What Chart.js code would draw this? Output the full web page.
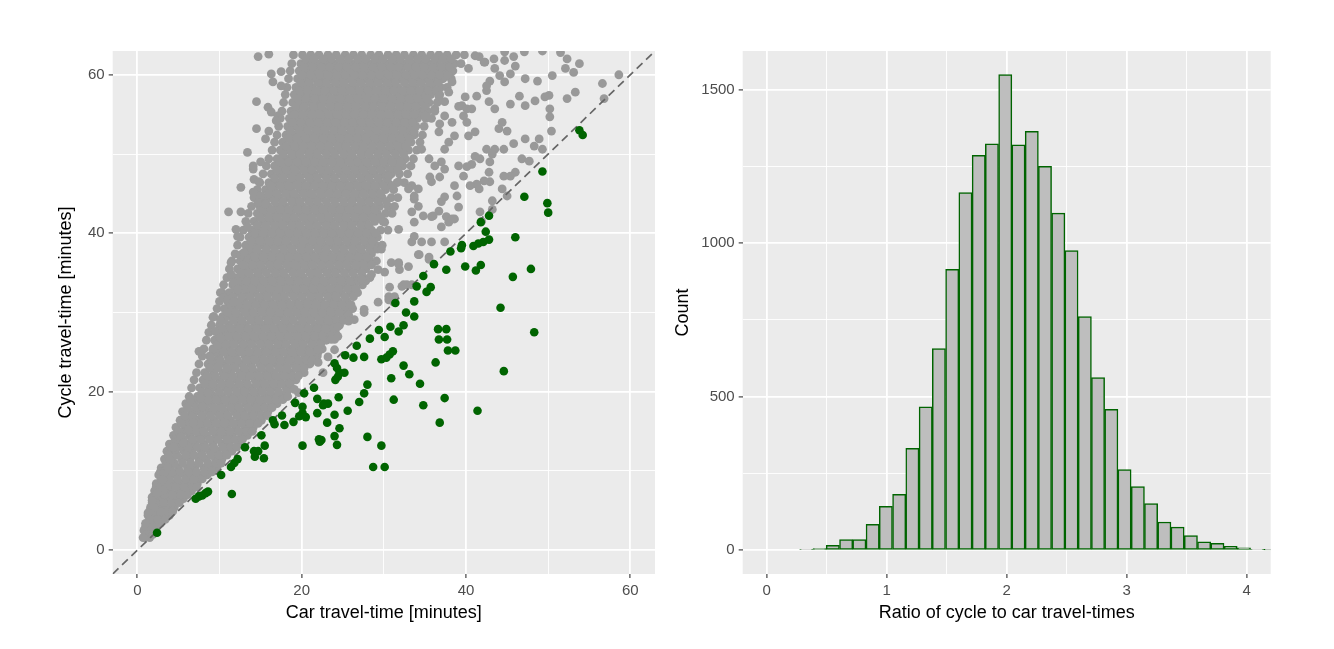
<!DOCTYPE html>
<html>
<head>
<meta charset="utf-8">
<script src="https://cdn.jsdelivr.net/npm/chart.js@4.4.0/dist/chart.umd.min.js"></script>
<style>
  html, body { margin: 0; background: #fff; }
  #wrap { position: relative; width: 1334px; height: 649px; overflow: hidden; }
  canvas { position: absolute; top: 0; }
</style>
</head>
<body>
<div id="wrap">
  <canvas id="scatter" width="667" height="649" style="left:0"></canvas>
  <canvas id="hist" width="667" height="649" style="left:667px"></canvas>
</div>
<script>
// Left panel: car vs cycle travel time, minutes
// ======================

// journeys where cycling beats driving (under the dashed line), [car, cycle]
var fasterByCycle = [
  [53.8,53.0],[54.2,52.4],[49.3,47.8],[47.1,44.6],[49.9,43.8],[50.0,42.6],[42.8,42.2],[41.8,41.4],
  [42.4,40.2],[46.0,39.5],[42.8,39.2],[42.1,38.9],[41.5,38.7],[40.9,38.4],[39.5,38.5],[39.4,38.1],
  [38.1,37.7],[36.1,36.1],[37.6,35.4],[39.9,35.8],[41.2,35.3],[41.8,36.0],[47.9,35.5],[45.7,34.5],
  [34.8,34.6],[34.0,33.3],[35.7,33.2],[35.2,32.6],[33.7,31.4],[31.4,31.2],[44.2,30.6],[32.7,30.0],
  [33.7,29.5],[32.4,28.4],[31.8,27.6],[30.8,28.2],[29.4,27.8],[30.1,26.9],[28.3,26.7],[36.6,27.9],
  [37.6,27.9],[36.7,26.6],[37.7,26.6],[37.8,25.2],[38.7,25.2],[48.3,27.5],[26.7,25.8],[25.3,24.6],
  [26.3,24.3],[27.6,24.4],[29.7,24.1],[30.3,24.3],[30.7,24.7],[31.1,25.1],[36.3,23.7],[32.4,23.3],
  [33.1,22.2],[24.0,23.6],[24.3,23.0],[24.6,22.4],[25.2,22.4],[24.1,21.5],[24.4,21.9],[30.9,21.7],
  [34.4,21.0],[44.6,22.6],[28.0,20.9],[27.6,19.8],[27.0,18.7],[24.5,19.3],[31.2,19.0],[34.8,18.3],
  [37.4,19.2],[41.4,17.6],[36.8,16.1],[22.7,18.5],[23.2,18.5],[25.6,17.6],[24.0,17.1],[23.1,16.1],
  [24.6,15.4],[22.4,13.9],[24.0,14.4],[24.3,13.3],[28.0,14.3],[29.7,13.2],[28.7,10.5],[30.1,10.5],
  [21.5,20.5],[20.3,19.8],[19.2,18.6],[21.9,19.1],[21.9,17.3],[22.6,18.3],[20.1,18.1],[20.1,17.3],
  [19.7,16.9],[20.5,16.8],[17.6,17.0],[16.5,16.4],[16.7,15.9],[17.9,15.8],[19.0,16.2],[15.1,14.5],
  [15.5,13.2],[20.1,13.2],[22.1,14.0],[22.2,13.7],[13.1,13.0],[14.2,12.5],[14.7,12.5],[14.3,11.8],
  [15.4,11.6],[12.2,11.5],[11.8,11.0],[11.4,10.5],[10.2,9.5],[8.6,7.4],[8.3,7.2],[7.9,6.9],
  [7.5,6.8],[7.1,6.5],[11.5,7.1],[2.4,2.2]
];

// the big grey cloud, read row by row: [cycle, car, car, ...]
var greyRows = [
  [1.6, 0.9, 1.5],
  [2.5, 0.8, 1.6, 2.2],
  [3.4, 1.2, 2.0, 2.8],
  [4.4, 1.3, 2.3, 3.1, 3.9],
  [5.4, 1.6, 2.5, 3.5, 4.5],
  [6.5, 1.9, 2.8, 3.8, 4.7, 5.6],
  [7.5, 2.1, 3.1, 4.0, 5.1, 6.0, 6.6],
  [8.4, 2.3, 3.4, 4.4, 5.3, 6.4, 7.3],
  [9.5, 2.6, 3.6, 4.7, 5.8, 6.7, 7.7, 8.5],
  [10.4, 2.9, 4.0, 5.0, 6.1, 7.0, 8.1, 9.0, 9.7],
  [11.5, 3.3, 4.2, 5.4, 6.4, 7.5, 8.4, 9.5, 10.3],
  [12.5, 3.6, 4.6, 5.7, 6.6, 7.8, 8.8, 9.7, 10.8, 11.5],
  [13.4, 3.9, 5.0, 6.1, 7.0, 8.1, 9.2, 10.3, 11.2, 12.3],
  [14.5, 4.4, 5.3, 6.4, 7.5, 8.4, 9.6, 10.6, 11.5, 12.7, 13.4],
  [15.5, 4.7, 5.8, 6.8, 7.8, 8.9, 10.0, 10.9, 12.0, 13.1, 14.1],
  [16.4, 5.2, 6.1, 7.3, 8.2, 9.3, 10.4, 11.3, 12.5, 13.5, 14.4, 15.1],
  [17.5, 5.5, 6.6, 7.6, 8.7, 9.6, 10.7, 11.8, 12.8, 13.9, 14.8, 15.9],
  [18.5, 5.9, 6.9, 8.0, 9.0, 10.1, 11.1, 12.1, 13.2, 14.3, 15.2, 16.3, 17.0],
  [19.4, 6.3, 7.3, 8.3, 9.4, 10.3, 11.5, 12.5, 13.6, 14.5, 15.7, 16.6, 17.6],
  [20.5, 6.6, 7.6, 8.7, 9.7, 10.8, 11.8, 12.9, 13.8, 15.0, 16.0, 17.0, 18.1, 18.7],
  [21.5, 6.9, 8.0, 9.0, 10.0, 11.1, 12.1, 13.2, 14.3, 15.2, 16.3, 17.4, 18.4, 19.3],
  [22.4, 7.2, 8.2, 9.3, 10.4, 11.3, 12.5, 13.5, 14.5, 15.6, 16.6, 17.7, 18.7, 19.8, 20.3],
  [23.5, 7.5, 8.6, 9.6, 10.6, 11.7, 12.7, 13.8, 14.9, 15.8, 16.9, 18.0, 19.0, 20.0, 21.0],
  [24.5, 7.9, 8.8, 9.9, 11.0, 11.9, 13.1, 14.1, 15.1, 16.2, 17.2, 18.3, 19.3, 20.4, 21.3, 21.9],
  [25.4, 8.1, 9.2, 10.2, 11.2, 12.3, 13.3, 14.4, 15.5, 16.4, 17.5, 18.6, 19.6, 20.6, 21.7, 22.5],
  [26.5, 8.4, 9.4, 10.5, 11.6, 12.5, 13.7, 14.7, 15.7, 16.8, 17.8, 18.9, 19.9, 21.0, 22.0, 23.0],
  [27.5, 8.7, 9.8, 10.8, 11.8, 12.9, 13.9, 15.0, 16.1, 17.0, 18.1, 19.2, 20.2, 21.2, 22.3, 23.3, 24.1],
  [28.4, 9.0, 10.0, 11.1, 12.2, 13.1, 14.3, 15.3, 16.3, 17.4, 18.4, 19.5, 20.5, 21.6, 22.6, 23.6, 24.6],
  [29.5, 9.3, 10.4, 11.4, 12.4, 13.5, 14.5, 15.6, 16.7, 17.6, 18.7, 19.8, 20.8, 21.8, 22.9, 23.9, 25.0, 25.7],
  [30.5, 9.7, 10.6, 11.7, 12.8, 13.7, 14.9, 15.9, 16.9, 18.0, 19.0, 20.1, 21.1, 22.2, 23.2, 24.2, 25.3, 26.2],
  [31.4, 10.0, 11.0, 12.0, 13.0, 14.1, 15.1, 16.2, 17.3, 18.2, 19.3, 20.4, 21.4, 22.4, 23.5, 24.5, 25.5],
  [32.5, 10.3, 11.2, 12.3, 13.4, 14.3, 15.5, 16.5, 17.5, 18.6, 19.6, 20.7, 21.7, 22.8, 23.8, 24.8, 25.9, 26.8],
  [33.5, 10.5, 11.6, 12.6, 13.6, 14.7, 15.7, 16.8, 17.9, 18.8, 19.9, 21.0, 22.0, 23.0, 24.1, 25.1, 26.2, 27.4],
  [34.4, 10.9, 11.9, 12.9, 14.0, 14.9, 16.1, 17.1, 18.1, 19.2, 20.2, 21.3, 22.3, 23.4, 24.4, 25.4, 26.5, 27.5, 28.3],
  [35.5, 11.2, 12.2, 13.3, 14.3, 15.3, 16.4, 17.4, 18.5, 19.5, 20.5, 21.6, 22.6, 23.7, 24.7, 25.8, 26.8, 27.8],
  [36.5, 11.5, 12.5, 13.6, 14.6, 15.7, 16.7, 17.8, 18.8, 19.9, 20.9, 22.0, 23.0, 24.1, 25.1, 26.1, 27.2, 28.3, 29.1],
  [37.4, 11.9, 12.9, 13.9, 15.0, 16.0, 17.1, 18.1, 19.1, 20.2, 21.2, 22.3, 23.3, 24.4, 25.4, 26.5, 27.5, 28.5],
  [38.5, 12.2, 13.2, 14.3, 15.3, 16.4, 17.4, 18.4, 19.5, 20.5, 21.6, 22.6, 23.7, 24.7, 25.8, 26.8, 27.9, 29.0, 29.8],
  [39.5, 12.5, 13.6, 14.6, 15.6, 16.7, 17.7, 18.8, 19.8, 20.9, 21.9, 23.0, 24.0, 25.0, 26.1, 27.1, 28.2, 29.2],
  [40.4, 12.9, 13.9, 14.9, 16.0, 17.0, 18.1, 19.1, 20.2, 21.2, 22.3, 23.3, 24.3, 25.4, 26.4, 27.5, 28.5, 29.6, 30.5],
  [41.5, 13.2, 14.2, 15.3, 16.3, 17.4, 18.4, 19.4, 20.5, 21.5, 22.6, 23.6, 24.7, 25.7, 26.7, 27.8, 28.9, 29.9],
  [42.5, 13.5, 14.6, 15.6, 16.7, 17.7, 18.7, 19.8, 20.8, 21.9, 22.9, 24.0, 25.0, 26.0, 27.1, 28.1, 29.2, 30.2, 31.0],
  [43.4, 13.9, 14.9, 15.9, 17.0, 18.0, 19.1, 20.1, 21.2, 22.2, 23.2, 24.3, 25.3, 26.4, 27.4, 28.5, 29.5, 30.5],
  [44.5, 14.2, 15.3, 16.3, 17.3, 18.4, 19.4, 20.5, 21.5, 22.5, 23.6, 24.6, 25.7, 26.7, 27.8, 28.8, 29.8, 30.9, 31.7],
  [45.5, 14.6, 15.6, 16.6, 17.7, 18.7, 19.8, 20.8, 21.9, 22.9, 23.9, 25.0, 26.0, 27.1, 28.1, 29.1, 30.2, 31.2],
  [46.4, 14.9, 16.0, 17.0, 18.1, 19.1, 20.1, 21.2, 22.2, 23.3, 24.3, 25.3, 26.4, 27.4, 28.5, 29.5, 30.5, 31.6, 32.5],
  [47.5, 15.3, 16.3, 17.4, 18.4, 19.4, 20.5, 21.5, 22.6, 23.6, 24.7, 25.7, 26.7, 27.8, 28.8, 29.9, 30.9, 31.9, 32.9],
  [48.5, 15.7, 16.7, 17.7, 18.8, 19.8, 20.9, 21.9, 22.9, 24.0, 25.0, 26.1, 27.1, 28.1, 29.2, 30.2, 31.3, 32.3, 33.3],
  [49.4, 16.0, 17.0, 18.1, 19.1, 20.2, 21.2, 22.2, 23.3, 24.3, 25.4, 26.4, 27.4, 28.5, 29.5, 30.6, 31.6, 32.6, 33.6],
  [50.5, 16.4, 17.4, 18.4, 19.5, 20.5, 21.6, 22.6, 23.6, 24.7, 25.7, 26.8, 27.8, 28.8, 29.9, 30.9, 32.0, 33.0, 34.0],
  [51.5, 16.7, 17.7, 18.8, 19.8, 20.9, 21.9, 22.9, 24.0, 25.0, 26.1, 27.1, 28.1, 29.2, 30.2, 31.3, 32.3, 33.3, 34.4],
  [52.4, 17.0, 18.1, 19.1, 20.1, 21.2, 22.2, 23.3, 24.3, 25.3, 26.4, 27.4, 28.5, 29.5, 30.5, 31.6, 32.6, 33.7, 34.7],
  [53.5, 17.2, 18.3, 19.3, 20.4, 21.4, 22.4, 23.5, 24.5, 25.6, 26.6, 27.6, 28.7, 29.7, 30.8, 31.8, 32.8, 33.9, 34.9],
  [54.5, 17.4, 18.5, 19.5, 20.5, 21.6, 22.6, 23.7, 24.7, 25.7, 26.8, 27.8, 28.9, 29.9, 30.9, 32.0, 33.0, 34.1, 35.1, 35.8],
  [55.4, 17.6, 18.7, 19.7, 20.8, 21.8, 22.8, 23.9, 24.9, 26.0, 27.0, 28.0, 29.1, 30.1, 31.2, 32.2, 33.2, 34.3, 35.3, 36.2],
  [56.5, 17.8, 18.9, 19.9, 20.9, 22.0, 23.0, 24.1, 25.1, 26.1, 27.2, 28.2, 29.3, 30.3, 31.3, 32.4, 33.4, 34.5, 35.5, 36.5],
  [57.5, 18.0, 19.1, 20.1, 21.2, 22.2, 23.2, 24.3, 25.3, 26.4, 27.4, 28.4, 29.5, 30.5, 31.6, 32.6, 33.6, 34.7, 35.7, 36.8],
  [58.4, 18.2, 19.3, 20.3, 21.3, 22.4, 23.4, 24.5, 25.5, 26.5, 27.6, 28.6, 29.7, 30.7, 31.7, 32.8, 33.8, 34.9, 35.9, 36.9, 37.7],
  [59.5, 18.4, 19.5, 20.5, 21.6, 22.6, 23.6, 24.7, 25.7, 26.8, 27.8, 28.8, 29.9, 30.9, 32.0, 33.0, 34.0, 35.1, 36.1, 37.2, 38.2],
  [60.5, 18.6, 19.7, 20.7, 21.7, 22.8, 23.8, 24.9, 25.9, 26.9, 28.0, 29.0, 30.1, 31.1, 32.1, 33.2, 34.2, 35.3, 36.3, 37.3, 38.4],
  [61.4, 18.8, 19.9, 20.9, 22.0, 23.0, 24.0, 25.1, 26.1, 27.2, 28.2, 29.2, 30.3, 31.3, 32.4, 33.4, 34.4, 35.5, 36.5, 37.6, 38.6, 39.4],
  [62.5, 19.0, 20.1, 21.1, 22.1, 23.2, 24.2, 25.3, 26.3, 27.3, 28.4, 29.4, 30.5, 31.5, 32.5, 33.6, 34.6, 35.7, 36.7, 37.7, 38.8, 39.8]
];

// second pass over the cloud, rows in between the ones above
var greyRowsBetween = [
  [2.0, 1.2, 1.9],
  [3.0, 1.0, 1.6, 2.4],
  [3.9, 1.6, 2.5, 3.4],
  [4.9, 1.5, 2.0, 2.8, 3.7, 4.3],
  [6.0, 1.8, 2.3, 3.2, 4.2, 5.1],
  [7.0, 2.4, 3.3, 4.3, 5.3, 6.1],
  [8.0, 2.3, 2.8, 3.7, 4.7, 5.7, 6.7, 7.2],
  [9.0, 2.9, 3.9, 4.9, 5.9, 6.9, 7.9],
  [9.9, 2.8, 3.2, 4.2, 5.2, 6.2, 7.2, 8.2, 9.1],
  [11.0, 3.5, 4.5, 5.5, 6.5, 7.5, 8.6, 9.6, 10.2],
  [12.0, 3.8, 4.8, 5.9, 6.9, 7.9, 9.0, 10.0, 10.9],
  [13.0, 4.1, 5.2, 6.2, 7.3, 8.3, 9.3, 10.4, 11.4, 12.1],
  [14.0, 4.6, 5.6, 6.7, 7.7, 8.8, 9.8, 10.9, 11.9, 12.8],
  [15.0, 5.0, 6.0, 7.1, 8.1, 9.2, 10.2, 11.3, 12.3, 13.3, 14.0],
  [16.0, 5.4, 6.4, 7.5, 8.5, 9.6, 10.6, 11.7, 12.7, 13.7, 14.7],
  [17.0, 5.8, 6.8, 7.9, 8.9, 10.0, 11.0, 12.1, 13.1, 14.1, 15.1, 15.8],
  [18.0, 6.1, 7.2, 8.2, 9.3, 10.3, 11.4, 12.4, 13.5, 14.5, 15.5, 16.4],
  [19.0, 6.5, 7.5, 8.6, 9.6, 10.7, 11.7, 12.8, 13.8, 14.9, 15.9, 16.9, 17.7],
  [20.0, 7.9, 8.9, 10.0, 11.0, 12.1, 13.1, 14.2, 15.2, 16.2, 17.2, 18.2],
  [21.0, 8.2, 9.2, 10.3, 11.3, 12.4, 13.4, 14.5, 15.5, 16.6, 17.6, 18.6],
  [22.0, 8.5, 9.5, 10.6, 11.6, 12.7, 13.7, 14.8, 15.8, 16.9, 17.9, 18.9, 19.6],
  [23.0, 8.8, 9.8, 10.9, 11.9, 13.0, 14.0, 15.1, 16.1, 17.2, 18.2, 19.3, 20.3],
  [24.0, 9.1, 10.1, 11.2, 12.2, 13.3, 14.3, 15.4, 16.4, 17.5, 18.5, 19.6, 20.6, 21.3],
  [25.0, 9.4, 10.5, 11.5, 12.6, 13.6, 14.7, 15.7, 16.8, 17.8, 18.9, 19.9, 21.0, 22.0],
  [26.0, 9.7, 10.8, 11.8, 12.9, 13.9, 15.0, 16.0, 17.1, 18.1, 19.2, 20.2, 21.3, 22.3],
  [27.0, 10.0, 11.1, 12.1, 13.2, 14.2, 15.3, 16.3, 17.4, 18.4, 19.5, 20.5, 21.6, 22.6, 23.5],
  [28.0, 10.3, 11.4, 12.4, 13.5, 14.5, 15.6, 16.6, 17.7, 18.7, 19.8, 20.8, 21.9, 22.9, 23.9],
  [29.0, 10.6, 11.7, 12.7, 13.8, 14.8, 15.9, 16.9, 18.0, 19.0, 20.1, 21.1, 22.2, 23.2, 24.2, 25.1],
  [30.0, 11.0, 12.0, 13.1, 14.1, 15.2, 16.2, 17.3, 18.3, 19.4, 20.4, 21.5, 22.5, 23.6, 24.6, 25.6],
  [31.0, 11.3, 12.3, 13.4, 14.4, 15.5, 16.5, 17.6, 18.6, 19.7, 20.7, 21.8, 22.8, 23.9, 24.9, 26.0],
  [32.0, 11.6, 12.7, 13.7, 14.8, 15.8, 16.9, 17.9, 19.0, 20.0, 21.1, 22.1, 23.2, 24.2, 25.3, 26.3],
  [33.0, 11.9, 13.0, 14.0, 15.1, 16.1, 17.2, 18.2, 19.3, 20.3, 21.4, 22.4, 23.5, 24.5, 25.6, 26.6],
  [34.0, 12.2, 13.3, 14.3, 15.4, 16.4, 17.5, 18.5, 19.6, 20.6, 21.7, 22.7, 23.8, 24.8, 25.9, 26.9, 27.8],
  [35.0, 12.6, 13.6, 14.7, 15.7, 16.8, 17.8, 18.9, 19.9, 21.0, 22.0, 23.1, 24.1, 25.2, 26.2, 27.3],
  [36.0, 12.9, 14.0, 15.0, 16.1, 17.1, 18.2, 19.2, 20.3, 21.3, 22.4, 23.4, 24.5, 25.5, 26.6, 27.6, 28.5],
  [37.0, 13.2, 14.3, 15.3, 16.4, 17.4, 18.5, 19.5, 20.6, 21.6, 22.7, 23.7, 24.8, 25.8, 26.9, 27.9],
  [38.0, 13.6, 14.6, 15.7, 16.7, 17.8, 18.8, 19.9, 20.9, 22.0, 23.0, 24.1, 25.1, 26.2, 27.2, 28.3, 29.2],
  [39.0, 13.9, 15.0, 16.0, 17.1, 18.1, 19.2, 20.2, 21.3, 22.3, 23.4, 24.4, 25.5, 26.5, 27.6, 28.6],
  [40.0, 14.3, 15.3, 16.4, 17.4, 18.5, 19.5, 20.6, 21.6, 22.7, 23.7, 24.8, 25.8, 26.9, 27.9, 29.0],
  [41.0, 14.6, 15.6, 16.7, 17.7, 18.8, 19.8, 20.9, 21.9, 23.0, 24.0, 25.1, 26.1, 27.2, 28.2],
  [42.0, 14.9, 16.0, 17.0, 18.1, 19.1, 20.2, 21.2, 22.3, 23.3, 24.4, 25.4, 26.5, 27.5, 28.6, 29.6],
  [43.0, 15.3, 16.3, 17.4, 18.4, 19.5, 20.5, 21.6, 22.6, 23.7, 24.7, 25.8, 26.8, 27.9, 28.9],
  [44.0, 15.6, 16.7, 17.7, 18.8, 19.8, 20.9, 21.9, 23.0, 24.0, 25.1, 26.1, 27.2, 28.2, 29.3, 30.3],
  [45.0, 16.0, 17.0, 18.1, 19.1, 20.2, 21.2, 22.3, 23.3, 24.4, 25.4, 26.5, 27.5, 28.6, 29.6],
  [46.0, 16.3, 17.4, 18.4, 19.5, 20.5, 21.6, 22.6, 23.7, 24.7, 25.8, 26.8, 27.9, 28.9, 30.0, 31.0],
  [47.0, 16.7, 17.7, 18.8, 19.8, 20.9, 21.9, 23.0, 24.0, 25.1, 26.1, 27.2, 28.2, 29.3, 30.3],
  [48.0, 17.0, 18.1, 19.1, 20.2, 21.2, 22.3, 23.3, 24.4, 25.4, 26.5, 27.5, 28.6, 29.6, 30.7, 31.7],
  [49.0, 17.4, 18.4, 19.5, 20.5, 21.6, 22.6, 23.7, 24.7, 25.8, 26.8, 27.9, 28.9, 30.0, 31.0, 32.0],
  [50.0, 17.7, 18.8, 19.8, 20.9, 21.9, 23.0, 24.0, 25.1, 26.1, 27.2, 28.2, 29.3, 30.3, 31.4, 32.4],
  [51.0, 18.1, 19.1, 20.2, 21.2, 22.3, 23.3, 24.4, 25.4, 26.5, 27.5, 28.6, 29.6, 30.7, 31.7, 32.7],
  [52.0, 18.4, 19.4, 20.5, 21.5, 22.6, 23.6, 24.7, 25.7, 26.8, 27.8, 28.9, 29.9, 31.0, 32.0, 33.1],
  [53.0, 18.6, 19.7, 20.7, 21.8, 22.8, 23.9, 24.9, 26.0, 27.0, 28.1, 29.1, 30.2, 31.2, 32.3, 33.3],
  [54.0, 18.9, 19.9, 21.0, 22.0, 23.1, 24.1, 25.2, 26.2, 27.3, 28.3, 29.4, 30.4, 31.5, 32.5, 33.5],
  [55.0, 19.1, 20.1, 21.2, 22.2, 23.3, 24.3, 25.4, 26.4, 27.5, 28.5, 29.6, 30.6, 31.7, 32.7, 33.7, 34.8],
  [56.0, 19.3, 20.3, 21.4, 22.4, 23.5, 24.5, 25.6, 26.6, 27.7, 28.7, 29.8, 30.8, 31.9, 32.9, 33.9, 35.0],
  [57.0, 19.5, 20.5, 21.6, 22.6, 23.7, 24.7, 25.8, 26.8, 27.9, 28.9, 30.0, 31.0, 32.1, 33.1, 34.1, 35.2],
  [58.0, 19.7, 20.7, 21.8, 22.8, 23.9, 24.9, 26.0, 27.0, 28.1, 29.1, 30.2, 31.2, 32.3, 33.3, 34.3, 35.4, 36.4],
  [59.0, 19.9, 20.9, 22.0, 23.0, 24.1, 25.1, 26.2, 27.2, 28.3, 29.3, 30.4, 31.4, 32.5, 33.5, 34.5, 35.6, 36.6],
  [60.0, 20.1, 21.1, 22.2, 23.2, 24.3, 25.3, 26.4, 27.4, 28.5, 29.5, 30.6, 31.6, 32.7, 33.7, 34.7, 35.8, 36.8, 37.8],
  [61.0, 20.3, 21.3, 22.4, 23.4, 24.5, 25.5, 26.6, 27.6, 28.7, 29.7, 30.8, 31.8, 32.9, 33.9, 34.9, 36.0, 37.0, 38.0],
  [62.0, 20.5, 21.5, 22.6, 23.6, 24.7, 25.7, 26.8, 27.8, 28.9, 29.9, 31.0, 32.0, 33.1, 34.1, 35.1, 36.2, 37.2, 38.2]
];

// stray grey points around the edges of the cloud, [car, cycle]
var greyLoose = [
  [58.6,60.0],[56.6,58.9],[56.8,57.0],[53.8,61.4],[53.1,60.3],[52.1,60.8],[51.5,62.8],[52.3,62.0],
  [53.3,57.8],[52.3,57.0],[50.1,57.4],[49.6,57.2],[50.2,55.7],[50.2,54.7],[50.4,52.9],[48.4,56.7],
  [47.2,56.1],[50.5,59.9],[48.7,59.2],[47.2,59.5],[46.0,61.1],[45.4,60.1],[44.7,59.1],[49.3,63.0],
  [47.1,62.9],[45.8,62.3],[44.7,61.8],[46.5,57.3],[45.4,56.3],[43.5,55.7],[42.8,56.6],[42.5,58.0],
  [44.4,54.0],[48.9,51.9],[47.2,51.9],[48.3,51.0],[49.3,50.6],[46.8,49.4],[47.7,49.1],[46.0,47.7],
  [45.4,47.2],[44.6,47.2],[45.8,51.3],[45.0,52.9],[44.0,53.2],[44.6,50.6],[43.5,50.6],[42.5,50.6],
  [42.9,49.0],[42.8,47.7],[42.9,46.5],[44.4,45.6],[45.0,44.7],[43.2,44.1],[42.2,46.6],[41.3,46.2],
  [43.2,43.0],[41.9,41.5],[41.7,42.7],[40.5,46.0],[41.6,45.6],[38.9,44.7],[38.6,46.0],[39.1,43.3],
  [38.6,41.8],[37.9,41.4],[37.0,40.8],[36.7,42.8],[36.0,42.2],[37.0,44.0],[37.4,44.6],[34.6,38.9],
  [35.8,38.9],[37.4,38.9],[33.4,38.9],[34.3,37.3],[35.5,37.0],[33.0,35.8],[31.8,36.3],[31.9,35.4],
  [32.4,33.5],[33.4,33.5],[30.7,33.2],[30.6,32.0],[31.2,31.3],[40.1,54.0],[39.1,56.0],[40.3,52.3],
  [41.1,52.8],[39.7,54.8],[41.3,57.3],[39.9,57.2],[39.5,56.1],[40.1,55.7],[40.7,55.7],[43.5,60.8],
  [44.1,59.9],[42.9,59.2],[42.5,58.6],[42.2,61.6],[41.6,62.3],[44.7,62.9],[43.4,62.0],[41.1,49.7],
  [41.7,49.4],[43.2,50.0],[40.7,48.7],[40.1,48.4],[39.1,48.5],[39.7,47.2],[37.0,49.0],[37.4,48.1],
  [36.8,47.1],[35.6,47.1],[35.8,46.5],[37.4,50.6],[37.9,51.5],[38.6,52.3],[36.7,52.8],[38.3,54.0],
  [37.4,54.8],[36.8,53.8],[37.4,56.6],[36.7,57.3],[37.9,57.8],[38.3,59.1],[34.2,45.6],[33.4,46.0],
  [33.7,44.3],[34.2,43.4],[33.7,41.4],[33.4,42.7],[34.8,42.2],[37.6,42.1],[38.3,41.8],[35.8,42.1],
  [41.1,62.4],[42.3,61.6],[40.3,60.8],
  [30.6,47.2],[31.8,46.5],[33.0,45.6],[33.7,44.7],[31.3,43.4],[30.1,41.4],[31.8,40.5],[33.7,39.6],
  [29.7,38.0],[34.6,50.6],[35.5,49.4],[36.2,48.5],[33.7,52.8],[35.0,54.8],[36.2,55.7],
  [22.6,22.4],[23.2,24.4],[24.0,26.6],[22.0,23.7],[19.6,19.9],[18.3,19.4],[19.1,20.3],[26.4,29.1],
  [25.7,29.7],[27.6,30.0],[29.3,31.3],[30.6,31.6],[31.3,32.0],[32.2,33.3],[32.8,33.5],[29.3,35.4],
  [30.1,35.1],[30.9,36.3],[31.8,36.1],[34.2,37.3],[35.5,36.7],[27.3,34.2],[28.5,34.8],[24.0,25.3],
  [24.4,27.0],[22.0,25.3],[23.6,26.6],[24.4,28.2],[25.7,28.9],[27.6,30.4],
  [11.1,42.7],[12.6,42.7],[12.6,45.8],[14.1,48.1],[13.4,50.2],[14.5,53.2],[14.5,56.6],[16.0,52.9],
  [16.3,60.1],[14.7,62.3],[16.0,62.6],[17.5,60.4],[16.5,59.1],[17.5,58.6],[15.9,55.9],[16.3,55.3],
  [15.6,51.9],[12.0,40.5],[12.2,39.6],[12.6,37.1],[11.4,36.3],[10.1,32.5],[10.5,31.9],[7.5,25.1],
  [9.2,25.3],[8.9,24.4],[9.2,29.4],[10.1,29.1],[11.0,31.6],[11.7,31.3],[11.4,34.8],[12.6,37.3],
  [9.5,27.6],[7.7,19.2],[6.7,16.8],[6.8,16.1],[4.4,13.5],[4.6,12.7],[3.2,9.7],[3.2,7.6],
  [1.8,6.7],[2.2,5.9],[1.0,3.4],[0.7,1.6],
  [17.1,54.8],[16.9,54.2],[14.1,48.5],[15.0,49.0],[14.2,46.8],[14.8,46.5],[14.1,45.2],[15.0,44.7],
  [14.7,43.9],[15.6,43.7],[13.4,40.8],[13.0,37.6],[11.7,33.8],[12.2,32.9],[9.8,25.9],[10.1,26.8],
  [8.6,19.9],[7.9,18.1],[6.2,15.2],[5.3,14.3],[5.6,13.5],[4.4,13.0],[4.0,11.4],[3.7,10.5],
  [3.1,8.9],[2.4,7.2],[1.8,6.3],[2.0,5.4],[1.3,4.7]
];

var minuteTicks = [0, 20, 40, 60];
var minuteMinor = [10, 30, 50];

// Right panel: histogram of cycle / car ratio
// ======================
var ratioMids = [
  0.330, 0.441, 0.551, 0.662, 0.772, 0.883, 0.993, 1.104, 1.214, 1.325, 1.435, 1.546,
  1.656, 1.767, 1.877, 1.988, 2.098, 2.209, 2.319, 2.430, 2.540, 2.651, 2.761, 2.872,
  2.982, 3.093, 3.203, 3.314, 3.424, 3.535, 3.645, 3.756, 3.866, 3.977, 4.087, 4.198
];
var ratioCounts = [
  3, 5, 16, 35, 35, 84, 143, 182, 332, 467, 657, 915,
  1165, 1286, 1324, 1549, 1320, 1364, 1250, 1098, 976, 761, 562, 459,
  263, 207, 152, 92, 75, 48, 27, 22, 13, 8, 3, 1
];
var ratioTicks = [0, 1, 2, 3, 4];
var ratioMinor = [0.5, 1.5, 2.5, 3.5];
var countTicks = [0, 500, 1000, 1500];
var countMinor = [250, 750, 1250];

var FONT = "'Liberation Sans', Arial, Helvetica, sans-serif";

// grey ggplot panel behind the grid
var panelBg = {
  id: 'panelBg',
  beforeDraw: function (chart) {
    var a = chart.chartArea, ctx = chart.ctx;
    ctx.save();
    ctx.fillStyle = '#ebebeb';
    ctx.fillRect(a.left, a.top, a.right - a.left, a.bottom - a.top);
    ctx.restore();
  }
};

function axis(min, max, major, minor, title, size) {
    var all = major.concat(minor).sort(function (a, b) { return a - b; });
    var isMajor = function (v) { return major.indexOf(v) >= 0; };
    return {
        type: 'linear', min: min, max: max, offset: false,
        afterBuildTicks: function (s) { s.ticks = all.map(function (v) { return {value: v}; }); },
        afterFit: function (s) { if (s.isHorizontal()) { s.height = size; } else { s.width = size; } },
        grid: {
            offset: false,
            color: '#ffffff',
            lineWidth: function (c) { return c.tick && isMajor(c.tick.value) ? 1.8 : 0.9; },
            drawTicks: true,
            tickLength: 4,
            tickWidth: 1.1,
            tickColor: function (c) { return c.tick && isMajor(c.tick.value) ? '#333333' : 'rgba(0,0,0,0)'; }
        },
        border: {display: false},
        ticks: {
            autoSkip: false, maxRotation: 0, padding: 4,
            color: '#4d4d4d', font: {family: FONT, size: 15},
            callback: function (v) { return isMajor(v) ? String(v) : ''; }
        },
        title: {display: true, text: title, color: '#000000', padding: 0, font: {family: FONT, size: 18}}
    };
}

var greyPoints = [];
greyRows.concat(greyRowsBetween).forEach(function (r) {
    for (var i = 1; i < r.length; i++) greyPoints.push({x: r[i], y: r[0]});
});
greyLoose.forEach(function (p) { greyPoints.push({x: p[0], y: p[1]}); });

var greenPoints = fasterByCycle.map(function (p) { return {x: p[0], y: p[1]}; });

new Chart(document.getElementById('scatter'), {
    type: 'scatter',
    data: {
        datasets: [
            { data: greenPoints, backgroundColor: '#006400', borderWidth: 0, pointRadius: 4.3 }
            , { type: 'line', data: [{x: -3, y: -3}, {x: 63, y: 63}], showLine: true,
                borderColor: '#666666', borderWidth: 1.7, borderDash: [8, 5], pointRadius: 0, fill: false }
            , { data: greyPoints, backgroundColor: '#999999', borderWidth: 0, pointRadius: 4.4 }
        ]
    },
    options: {
        responsive: false, animation: false, events: [],
        layout: {padding: {left: 55, right: 12, top: 51, bottom: 25.5}},
        plugins: {legend: {display: false}, tooltip: {enabled: false}},
        scales: {
            x: axis(-3, 63, minuteTicks, minuteMinor, 'Car travel-time [minutes]', 49.5),
            y: axis(-3, 63, minuteTicks, minuteMinor, 'Cycle travel-time [minutes]', 57.7)
        }
    },
    plugins: [panelBg]
});

new Chart(document.getElementById('hist'), {
    type: 'bar',
    data: {
        datasets: [{
            data: ratioMids.map(function (m, i) { return {x: m, y: ratioCounts[i]}; }),
            backgroundColor: '#bebebe', borderColor: '#006400', borderWidth: 1.5,
            borderSkipped: false, barPercentage: 1, categoryPercentage: 1
        }]
    },
    options: {
        responsive: false, animation: false, events: [],
        layout: {padding: {left: 5.2, right: 63.3, top: 51, bottom: 25.5}},
        plugins: {legend: {display: false}, tooltip: {enabled: false}},
        scales: {
            x: axis(-0.2, 4.2, ratioTicks, ratioMinor, 'Ratio of cycle to car travel-times', 49.5),
            y: axis(-77.5, 1626, countTicks, countMinor, 'Count', 70.5)
        }
    },
    plugins: [panelBg]
});
</script>
</body>
</html>
